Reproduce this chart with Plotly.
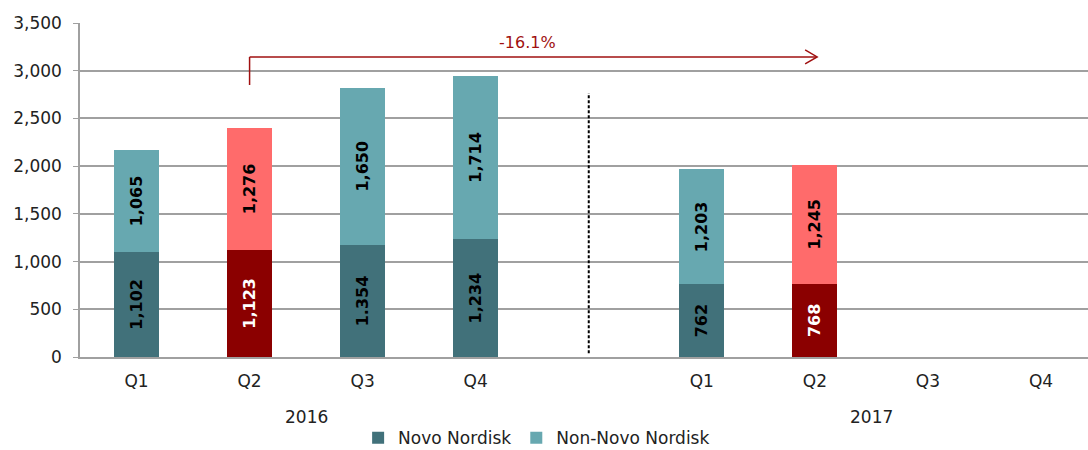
import plotly.graph_objects as go

quarters = ["Q1", "Q2", "Q3", "Q4", "", "Q1", "Q2", "Q3", "Q4"]
years = ["2016", "2017"]
novo = [1102, 1123, 1174, 1234, None, 762, 768, None, None]
novo_text = ["1,102", "1,123", "1.354", "1,234", "", "762", "768", "", ""]
non_novo = [1065, 1276, 1650, 1714, None, 1203, 1245, None, None]
non_novo_text = ["1,065", "1,276", "1,650", "1,714", "", "1,203", "1,245", "", ""]
highlight = [False, True, False, False, False, False, True, False, False]
change_label = "-16.1%"

x = list(range(len(quarters)))
dark_teal, light_teal = "#41717A", "#67A8B0"
dark_red, light_red = "#8B0000", "#FF6B6B"

novo_colors = [dark_red if h else dark_teal for h in highlight]
non_colors = [light_red if h else light_teal for h in highlight]
novo_tc = ["white" if h else "black" for h in highlight]

font = "Verdana, DejaVu Sans, sans-serif"

fig = go.Figure()
fig.add_trace(go.Bar(x=x, y=novo, name="Novo Nordisk", marker_color=novo_colors,
                     text=novo_text, textposition="inside", insidetextanchor="middle",
                     textangle=-90, texttemplate="<b>%{text}</b>",
                     textfont=dict(size=16, color=novo_tc, family=font),
                     width=0.4, marker_line_width=0, hoverinfo="skip"))
fig.add_trace(go.Bar(x=x, y=non_novo, name="Non-Novo Nordisk", marker_color=non_colors,
                     text=non_novo_text, textposition="inside", insidetextanchor="middle",
                     textangle=-90, texttemplate="<b>%{text}</b>",
                     textfont=dict(size=16, color="black", family=font),
                     width=0.4, marker_line_width=0, hoverinfo="skip"))

fig.update_layout(
    barmode="stack",
    width=1088, height=465,
    margin=dict(l=80, r=0, t=23, b=108),
    plot_bgcolor="white", paper_bgcolor="white",
    font=dict(family=font, size=17, color="#222"),
    showlegend=True,
    legend=dict(orientation="h", x=0.453, xanchor="center", y=-0.243, yanchor="middle",
                font=dict(size=17), traceorder="normal"),
    xaxis=dict(tickmode="array", tickvals=x, ticktext=quarters, range=[-0.5, 8.416],
               showgrid=False, showline=True, linecolor="#A0A0A0", linewidth=1.5,
               ticks="outside", ticklen=8, tickcolor="rgba(0,0,0,0)", tickfont=dict(size=17)),
    yaxis=dict(range=[0, 3500], dtick=500, tickformat=",", showgrid=True,
               gridcolor="#A0A0A0", gridwidth=1.5, showline=True, linecolor="#A0A0A0",
               linewidth=1.5, ticks="outside", ticklen=5, tickcolor="#A0A0A0",
               ticklabelstandoff=8, tickfont=dict(size=17), zeroline=False),
)

# year labels
fig.add_annotation(x=1.5, y=-0.18, xref="x", yref="paper", text=years[0], showarrow=False,
                   font=dict(size=17), yanchor="middle")
fig.add_annotation(x=6.5, y=-0.18, xref="x", yref="paper", text=years[1], showarrow=False,
                   font=dict(size=17), yanchor="middle")

# divider
fig.add_shape(type="line", x0=4, x1=4, y0=40, y1=2766, xref="x", yref="y",
              line=dict(color="black", width=2, dash="3px,2px"))

# change arrow
arrow_c = "#A01010"
fig.add_shape(type="line", x0=1, x1=1, y0=2850, y1=3144, xref="x", yref="y",
              line=dict(color=arrow_c, width=1.5))
fig.add_shape(type="line", x0=1, x1=6.02, y0=3144, y1=3144, xref="x", yref="y",
              line=dict(color=arrow_c, width=1.5))
fig.add_shape(type="path", xref="x", yref="y", xsizemode="pixel", ysizemode="pixel",
              xanchor=6.02, yanchor=3144, path="M -12,7 L 0,0 L -12,-7",
              line=dict(color=arrow_c, width=1.5))
fig.add_annotation(x=3.46, y=3300, xref="x", yref="y", text=change_label, showarrow=False,
                   font=dict(size=16, color=arrow_c))

fig.write_html(
    "out.html",
    config={"displayModeBar": False},
    post_script="document.body.style.margin='0';document.body.style.overflow='hidden';",
)
